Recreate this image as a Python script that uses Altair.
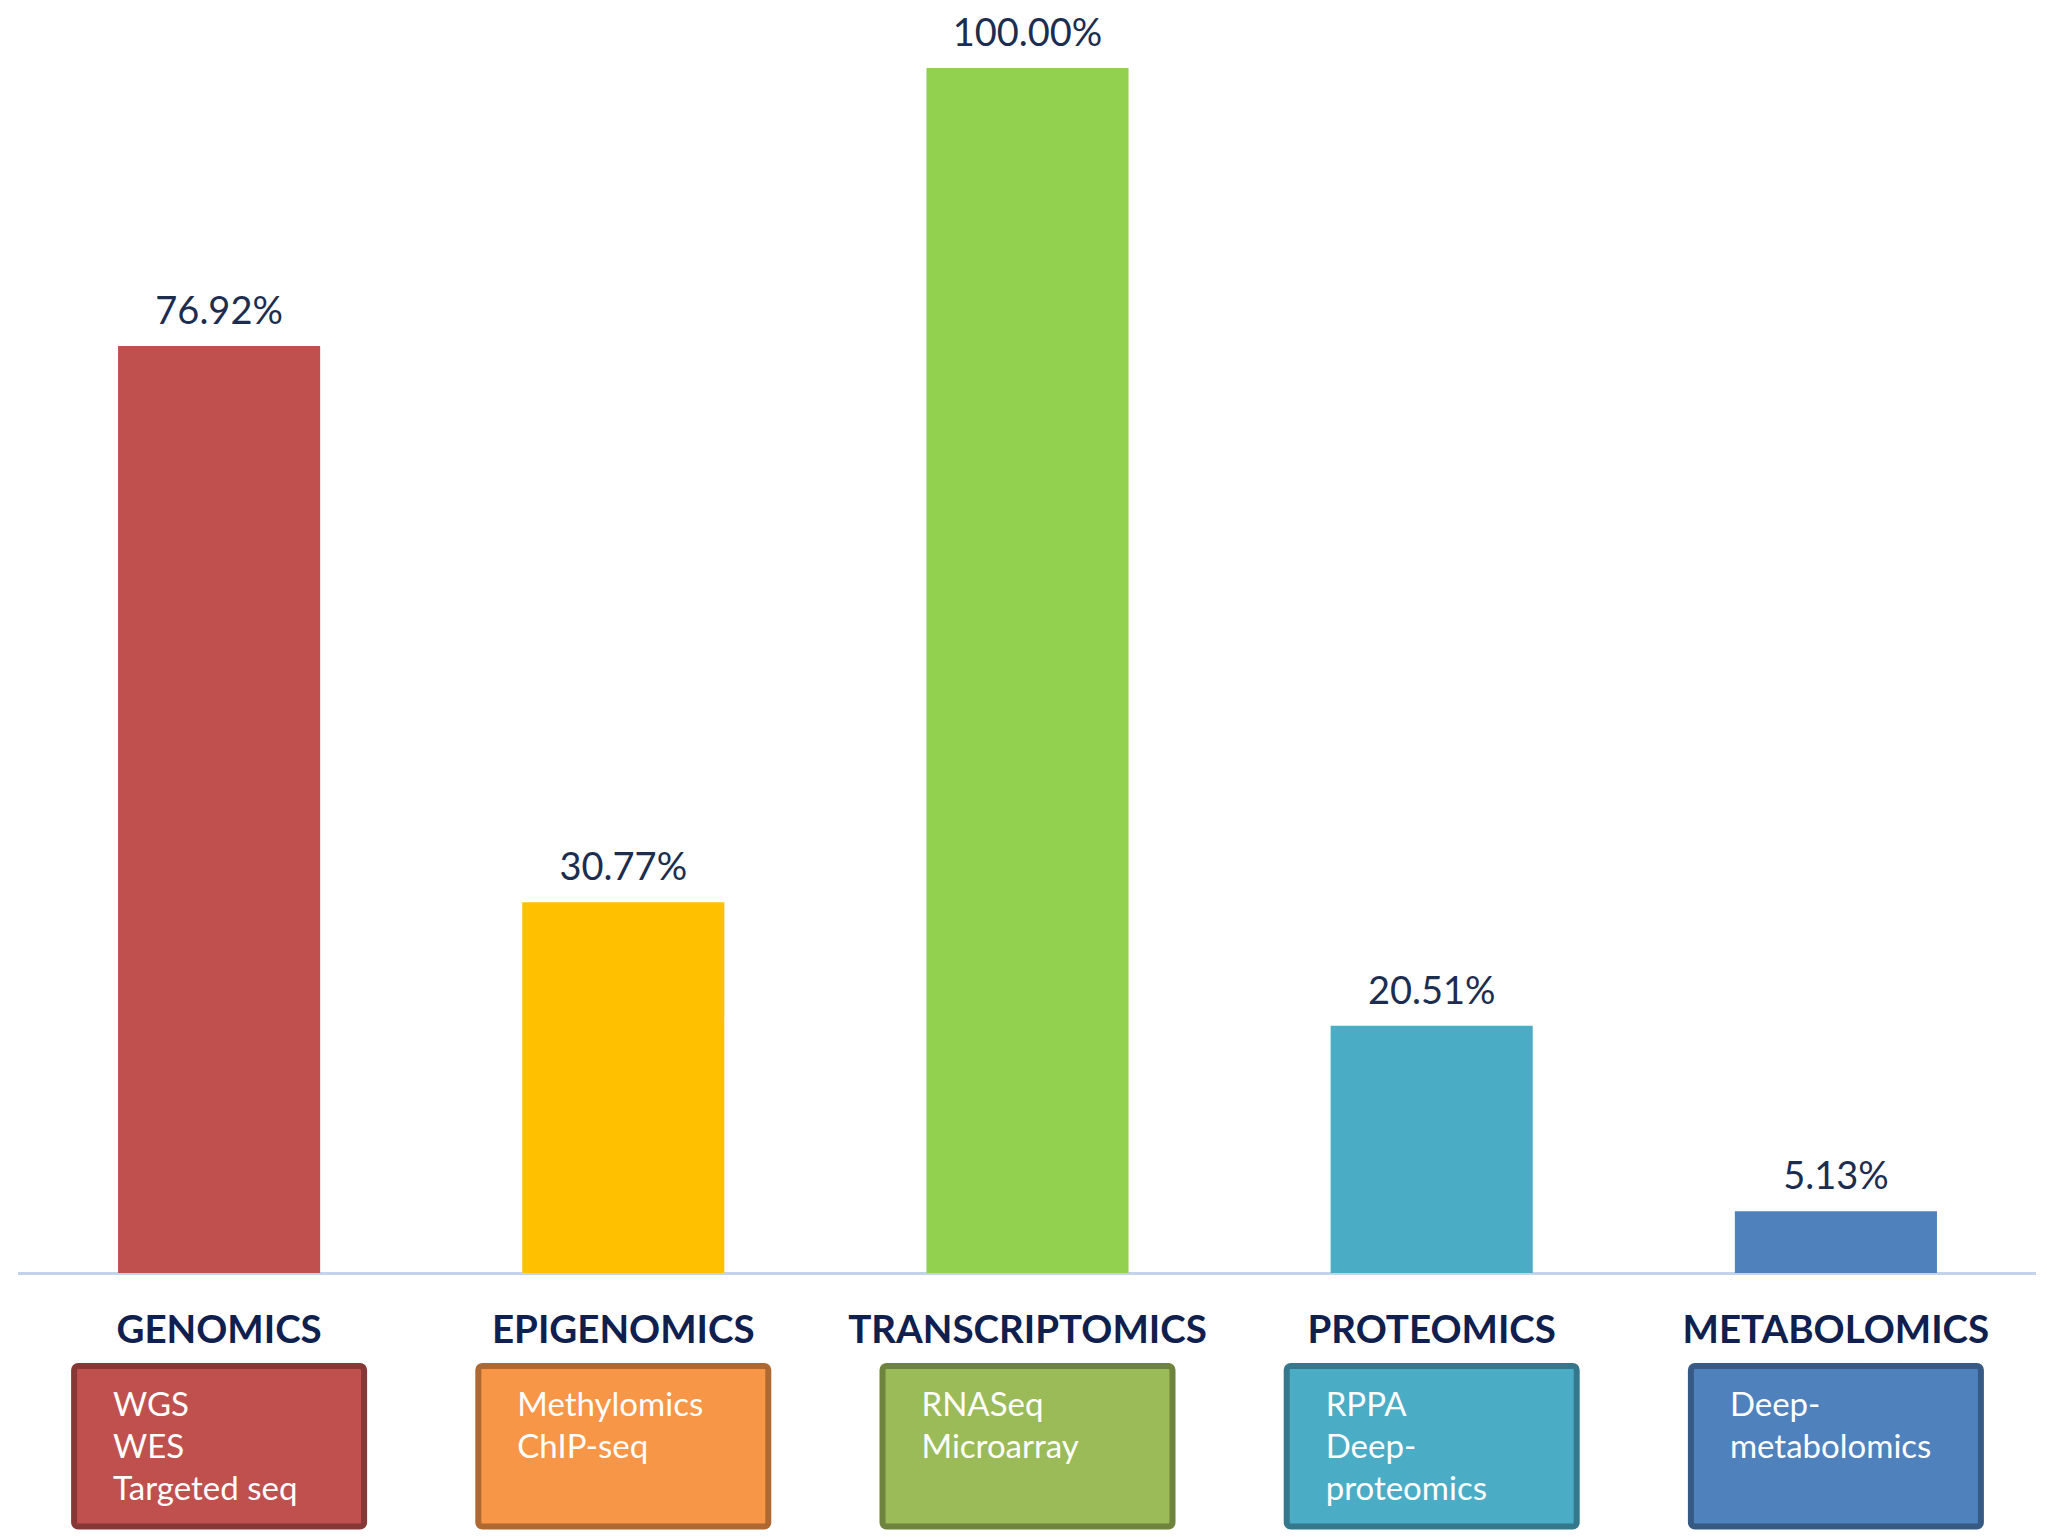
import altair as alt
import pandas as pd

categories = ["GENOMICS", "EPIGENOMICS", "TRANSCRIPTOMICS", "PROTEOMICS", "METABOLOMICS"]
percentages = [76.92, 30.77, 100.00, 20.51, 5.13]
methods = [
    ["WGS", "WES", "Targeted seq"],
    ["Methylomics", "ChIP-seq"],
    ["RNASeq", "Microarray"],
    ["RPPA", "Deep-", "proteomics"],
    ["Deep-", "metabolomics"],
]
bar_colors = ["#C0504D", "#FFC000", "#92D050", "#4BACC6", "#4F81BD"]
box_fill = ["#C0504D", "#F79646", "#9BBB59", "#4BACC6", "#4F81BD"]
box_border = ["#863836", "#AD6931", "#6D833E", "#35788B", "#375A84"]

df = pd.DataFrame({
    "category": categories,
    "value": percentages,
    "label": [f"{v:.2f}%" for v in percentages],
    "methods": ["\n".join(m) for m in methods],
})

x_enc = alt.X("category:N", sort=categories,
              scale=alt.Scale(paddingInner=0.5, paddingOuter=0.25), axis=None)
y_enc = alt.Y("value:Q", scale=alt.Scale(domain=[0, 104.98], nice=False), axis=None)

base = alt.Chart(df)

axis_line = base.mark_rule(color="#C3D4EA", strokeWidth=3).encode(
    x=alt.value(1), x2=alt.value(2019), y=alt.value(1265.5)
)

bars = base.mark_bar().encode(
    x=x_enc,
    y=y_enc,
    color=alt.Color("category:N", scale=alt.Scale(domain=categories, range=bar_colors), legend=None),
)

value_labels = base.mark_text(
    dy=-22, baseline="alphabetic", font="Lato", fontSize=38, color="#1C2D50"
).encode(x=x_enc, y=y_enc, text="label:N")

cat_labels = base.mark_text(
    baseline="alphabetic", font="Lato", fontWeight="bold", fontSize=38.5, color="#10204E"
).encode(x=x_enc, y=alt.value(1335), text="category:N")

boxes = base.mark_bar(width=290, strokeWidth=6, cornerRadius=4).encode(
    x=x_enc,
    y=alt.value(1358),
    y2=alt.value(1518.5),
    fill=alt.Fill("category:N", scale=alt.Scale(domain=categories, range=box_fill), legend=None),
    stroke=alt.Stroke("category:N", scale=alt.Scale(domain=categories, range=box_border), legend=None),
)

box_text = base.mark_text(
    align="left", dx=-106, baseline="alphabetic", font="Lato", fontSize=33,
    lineHeight=42, lineBreak="\n", color="white"
).encode(x=x_enc, y=alt.value(1408), text="methods:N")

chart = alt.layer(axis_line, bars, value_labels, cat_labels, boxes, box_text).properties(
    width=2021, height=1265, autosize="none",
    padding={"left": 9, "top": 0, "right": 1, "bottom": 257},
).configure_view(stroke=None)

chart.save("out.html", embed_options={"renderer": "svg", "actions": False})
